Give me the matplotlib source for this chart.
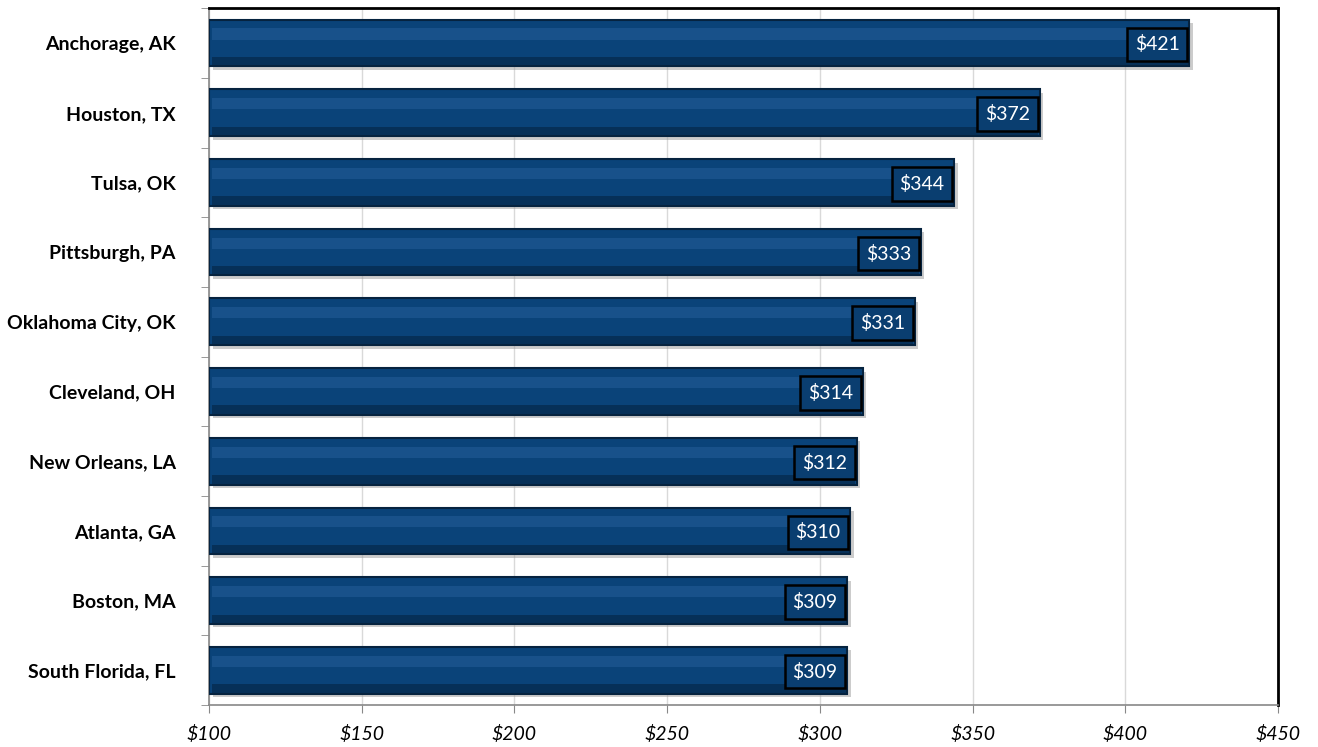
import numpy as np
import matplotlib
matplotlib.use('Agg')
import matplotlib.pyplot as plt

cities = ['Anchorage, AK', 'Houston, TX', 'Tulsa, OK', 'Pittsburgh, PA', 'Oklahoma City, OK',
          'Cleveland, OH', 'New Orleans, LA', 'Atlanta, GA', 'Boston, MA', 'South Florida, FL']
values = [421, 372, 344, 333, 331, 314, 312, 310, 309, 309]
xticks = [100, 150, 200, 250, 300, 350, 400, 450]
xtick_labels = ['$%d' % v for v in xticks]

plt.rcParams['font.family'] = ['Lato', 'DejaVu Sans']

fig = plt.figure(figsize=(13.18, 7.47), dpi=100)
ax = fig.add_axes([0.1586, 0.056, 0.8111, 0.933])

y = np.arange(len(cities))
base = 100
w = [v - base for v in values]
h = 0.67

# shadow
ax.barh(y + 0.05, w, height=h, left=base + 1.2, color='#9a9a9a', alpha=0.5, zorder=2)
# main bar
ax.barh(y, w, height=h, left=base, color='#0A4379', edgecolor='#06233f', linewidth=1.5, zorder=3)
# highlight band
ax.barh(y - 0.13, [x - 1.5 for x in w], height=0.16, left=base + 1, color='#2A64A0', alpha=0.45, zorder=4, linewidth=0)
# bottom dark band
ax.barh(y + 0.26, [x - 1.5 for x in w], height=0.12, left=base + 1, color='#05284A', alpha=0.7, zorder=4, linewidth=0)

for yi, v in zip(y, values):
    ax.text(v - 3.2, yi + 0.02, '$%d' % v, ha='right', va='center', color='white', fontsize=14,
            zorder=6, bbox=dict(boxstyle='square,pad=0.4', facecolor='#0A3E70', edgecolor='black', linewidth=1.8))

ax.set_xlim(100, 450)
ax.set_ylim(len(cities) - 0.5, -0.5)
ax.set_xticks(xticks)
ax.set_xticklabels(xtick_labels, fontsize=14, style='italic')
ax.set_yticks(y)
ax.set_yticklabels(cities, fontsize=14, fontweight='bold')
ax.set_yticks(np.arange(len(cities) + 1) - 0.5, minor=True)
ax.tick_params(axis='y', which='major', length=0, pad=24)
ax.tick_params(axis='y', which='minor', length=6, color='#888888')
ax.tick_params(axis='x', length=6, color='#888888', pad=8)
ax.grid(axis='x', color='#d9d9d9', linewidth=1, zorder=0)
ax.set_axisbelow(True)

ax.spines['left'].set_color('#888888')
ax.spines['bottom'].set_color('#888888')
ax.spines['left'].set_linewidth(1.2)
ax.spines['bottom'].set_linewidth(1.2)
ax.spines['top'].set_color('black')
ax.spines['right'].set_color('black')
ax.spines['top'].set_linewidth(2)
ax.spines['right'].set_linewidth(2)

plt.savefig('out.png', dpi=100)
